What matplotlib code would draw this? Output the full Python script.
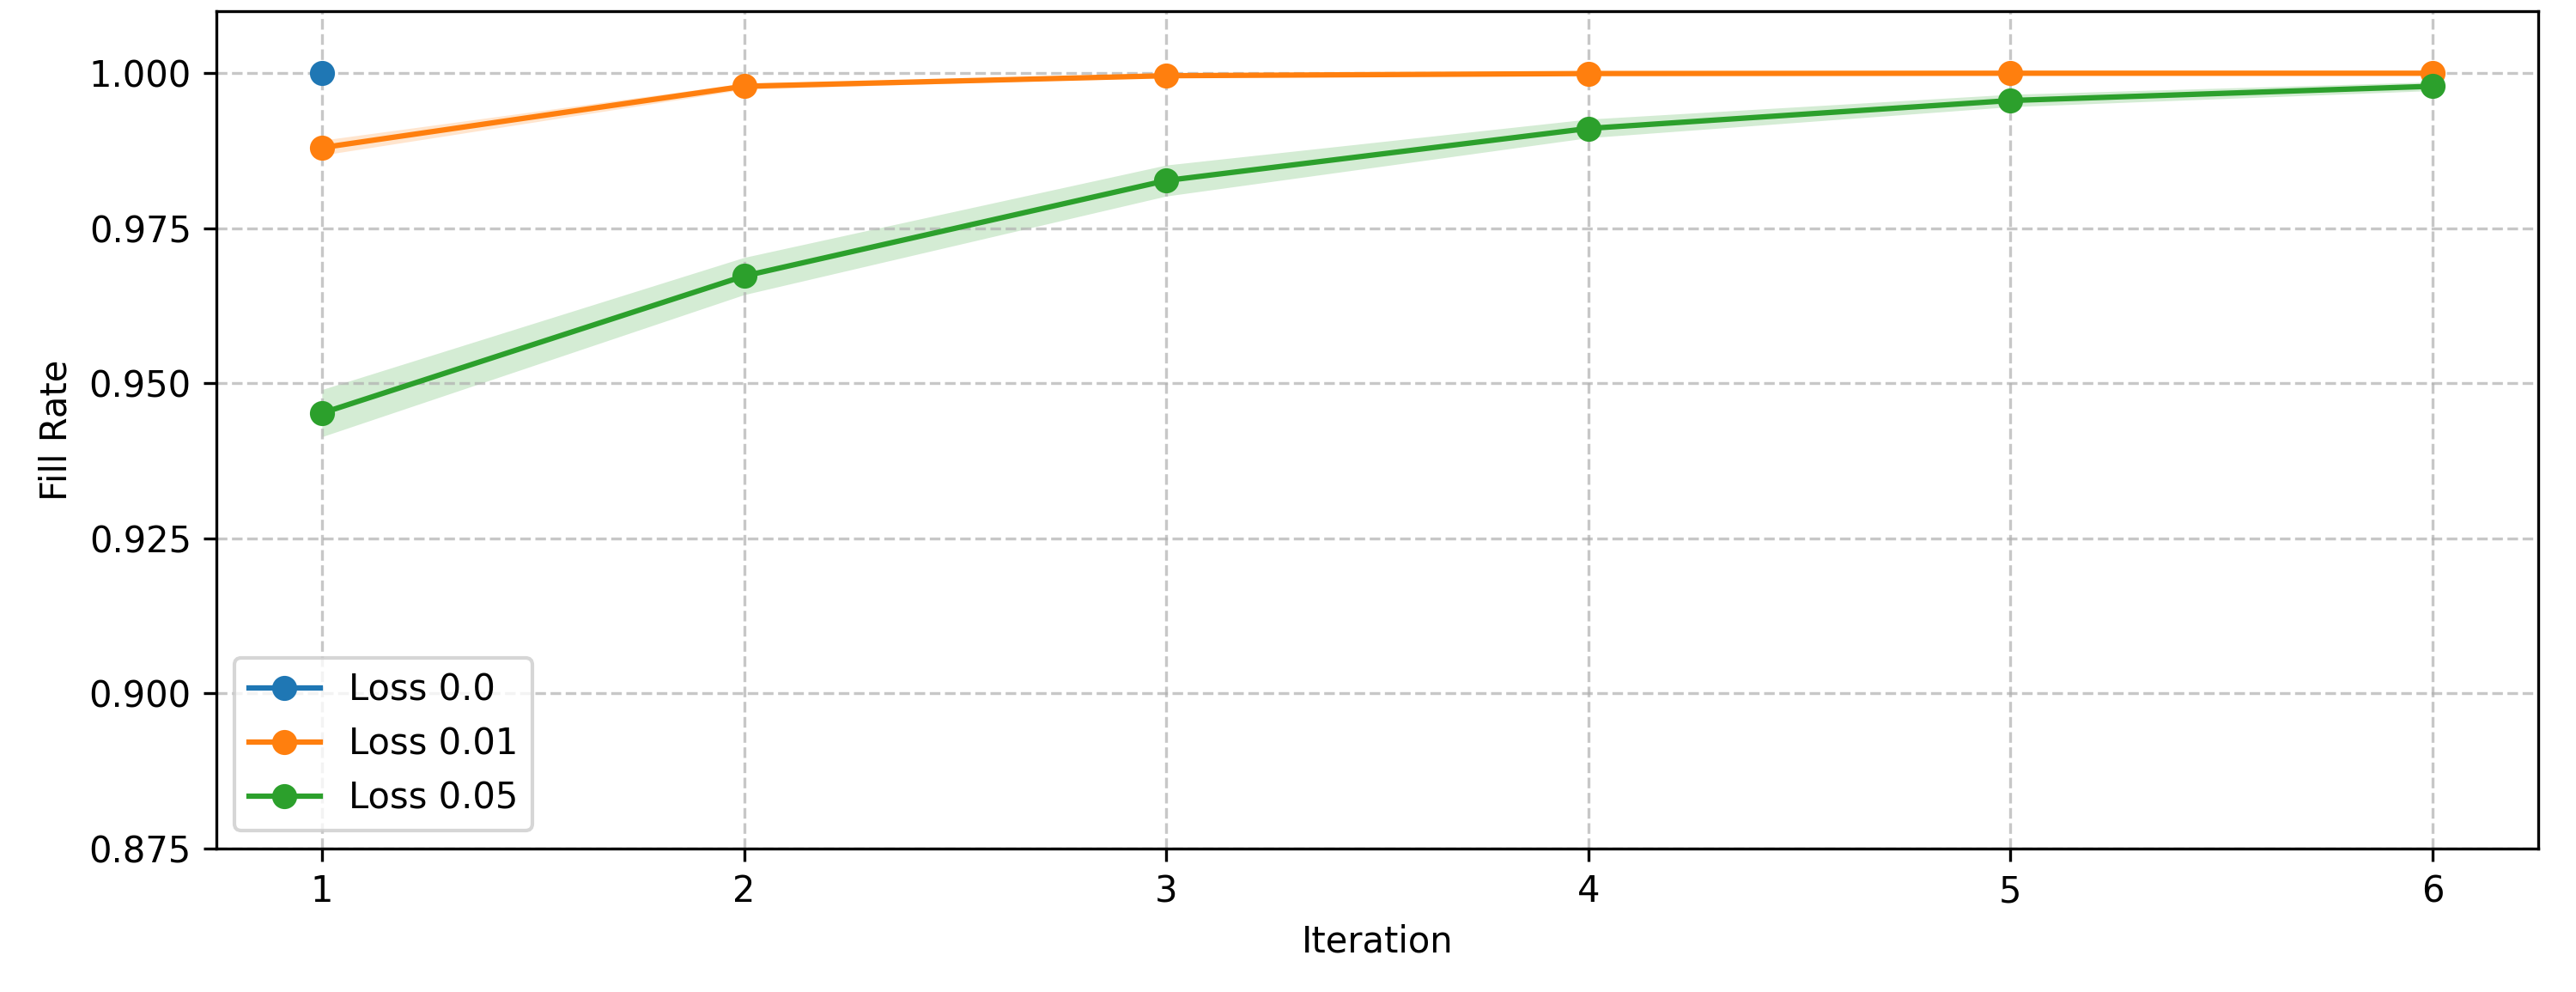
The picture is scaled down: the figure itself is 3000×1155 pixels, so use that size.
import matplotlib
matplotlib.use('Agg')
import matplotlib.pyplot as plt
import numpy as np

# Fill rate per iteration, mean and spread, for each loss setting
iterations = [1, 2, 3, 4, 5, 6]

loss_labels = ['Loss 0.0', 'Loss 0.01', 'Loss 0.05']

loss_00_iter = [1]
loss_00_mean = [1.0]
loss_00_std = [0.0]

loss_001_mean = [0.9880, 0.9979, 0.9996, 0.99995, 1.0, 1.0]
loss_001_std = [0.0012, 0.0005, 0.0002, 0.0001, 0.00005, 0.00003]

loss_005_mean = [0.9452, 0.9673, 0.9827, 0.9911, 0.9956, 0.9979]
loss_005_std = [0.0038, 0.0030, 0.0025, 0.0015, 0.0010, 0.0007]

y_ticks = [0.875, 0.900, 0.925, 0.950, 0.975, 1.000]


def plot_series(ax, x, mean, std, label):
    mean = np.array(mean)
    std = np.array(std)
    line, = ax.plot(x, mean, '-o', label=label)
    ax.fill_between(x, mean - std, mean + std, color=line.get_color(), alpha=0.2, linewidth=0)


fig, ax = plt.subplots(figsize=(10, 3.85), dpi=300)
fig.subplots_adjust(left=0.084, right=0.9853, bottom=0.1446, top=0.9887)

plot_series(ax, loss_00_iter, loss_00_mean, loss_00_std, loss_labels[0])
plot_series(ax, iterations, loss_001_mean, loss_001_std, loss_labels[1])
plot_series(ax, iterations, loss_005_mean, loss_005_std, loss_labels[2])

ax.set_xlim(0.75, 6.25)
ax.set_ylim(0.875, 1.01)
ax.set_xticks(iterations)
ax.set_yticks(y_ticks)
ax.set_yticklabels([f'{t:.3f}' for t in y_ticks])
ax.set_xlabel('Iteration')
ax.set_ylabel('Fill Rate')
ax.grid(True, linestyle='--', alpha=0.7)
ax.legend(loc='lower left')

plt.savefig('out.png', dpi=300)
